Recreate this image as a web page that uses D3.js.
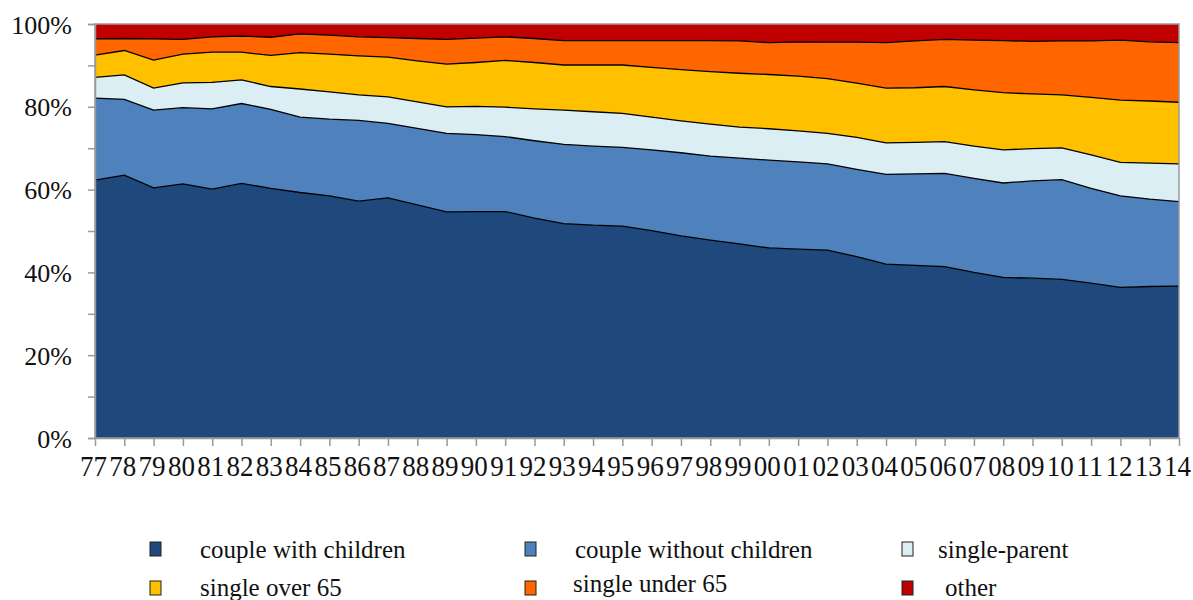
<!DOCTYPE html>
<html><head><meta charset="utf-8">
<script src="https://cdn.jsdelivr.net/npm/d3@7/dist/d3.min.js"></script>
<style>
body{margin:0;background:#fff;}
svg text{font-family:"Liberation Serif","DejaVu Serif","Times New Roman",Times,serif !important;fill:#111;}
</style>
</head><body>
<svg id="chart" width="1193" height="600"></svg>
<script>
// ---------- DATA (percent of households) ----------
const years = ["77","78","79","80","81","82","83","84","85","86","87","88","89","90","91","92","93","94","95","96","97","98","99","00","01","02","03","04","05","06","07","08","09","10","11","12","13","14"];
const seriesNames = ["couple with children","couple without children","single-parent","single over 65","single under 65","other"];
const coupleWithChildren = [62.3,63.5,60.4,61.4,60.1,61.5,60.3,59.3,58.5,57.2,58.0,56.3,54.6,54.7,54.7,53.1,51.8,51.4,51.2,50.1,48.8,47.8,46.9,45.9,45.6,45.4,43.8,42.0,41.7,41.4,40.0,38.8,38.6,38.3,37.4,36.4,36.6,36.7];
const coupleWithoutChildren = [19.8,18.3,18.8,18.4,19.4,19.3,19.1,18.2,18.5,19.5,18.0,18.5,19.0,18.6,18.1,18.7,19.1,19.1,19.0,19.5,20.1,20.3,20.7,21.2,21.1,20.8,21.1,21.7,22.1,22.5,22.7,22.8,23.5,24.1,22.9,22.1,21.1,20.4];
const singleParent = [5.0,5.9,5.3,6.0,6.4,5.7,5.5,6.8,6.6,6.2,6.4,6.4,6.4,6.8,7.1,7.7,8.3,8.3,8.2,7.9,7.7,7.7,7.5,7.6,7.5,7.4,7.7,7.6,7.6,7.7,7.8,8.0,7.8,7.7,8.1,8.1,8.7,9.1];
const singleOver65 = [5.4,5.9,6.8,6.9,7.3,6.7,7.5,8.8,9.1,9.4,9.6,9.9,10.3,10.6,11.3,11.2,10.9,11.3,11.7,12.0,12.4,12.7,13.0,13.1,13.2,13.2,13.1,13.2,13.2,13.3,13.6,13.8,13.2,12.8,13.9,15.0,15.0,14.9];
const singleUnder65 = [3.9,2.9,5.1,3.6,3.7,3.9,4.4,4.5,4.6,4.6,4.7,5.4,6.0,5.9,5.7,5.8,5.9,5.9,5.9,6.5,7.0,7.5,7.8,7.7,8.3,8.8,9.9,11.0,11.3,11.4,12.0,12.6,12.7,13.0,13.6,14.5,14.3,14.4];
const other = [3.6,3.5,3.6,3.7,3.1,2.9,3.2,2.4,2.7,3.1,3.3,3.5,3.7,3.4,3.1,3.5,4.0,4.0,4.0,4.0,4.0,4.0,4.1,4.5,4.3,4.4,4.4,4.5,4.1,3.7,3.9,4.0,4.2,4.1,4.1,3.9,4.3,4.5];
const yTicks = [0,0.1,0.2,0.3,0.4,0.5,0.6,0.7,0.8,0.9,1.0];
const yTickLabels = ["0%","","20%","","40%","","60%","","80%","","100%"];

// ---------- STYLE / LAYOUT ----------
const colors = ["#1F497D","#4F81BD","#DAEEF3","#FFC000","#FF6600","#C00000"];
const M = {left:95, right:1179, top:24, bottom:438};

const seriesValues = [coupleWithChildren,coupleWithoutChildren,singleParent,singleOver65,singleUnder65,other];
const table = years.map((yr,i)=>{
  const row = {year: yr};
  seriesNames.forEach((n,k)=>row[n]=seriesValues[k][i]);
  return row;
});

const svg = d3.select("#chart");
const x = d3.scalePoint().domain(years).range([M.left, M.right]);
const y = d3.scaleLinear().domain([0,1]).range([M.bottom, M.top]);

const stack = d3.stack().keys(seriesNames).offset(d3.stackOffsetExpand);
const layers = stack(table);

const area = d3.area().x(d=>x(d.data.year)).y0(d=>y(d[0])).y1(d=>y(d[1]));
const line = d3.line().x(d=>x(d.data.year)).y(d=>y(d[1]));

svg.append("g").selectAll("path").data(layers).join("path")
  .attr("d", area).attr("fill", (d,i)=>colors[i]);

svg.append("g").selectAll("path").data(layers.slice(0,5)).join("path")
  .attr("d", line).attr("fill","none").attr("stroke","#000").attr("stroke-width",1.3);

// plot frame
svg.append("rect").attr("x",M.left).attr("y",M.top)
  .attr("width",M.right-M.left).attr("height",M.bottom-M.top)
  .attr("fill","none").attr("stroke","#999").attr("stroke-width",1.5);

// y axis
const yAxis = svg.append("g").attr("transform",`translate(${M.left},0)`)
  .call(d3.axisLeft(y).tickValues(yTicks).tickSize(7).tickPadding(16)
    .tickFormat((d,i)=>yTickLabels[i]));
yAxis.attr("font-family",null);
yAxis.selectAll("path,line").attr("stroke","#999").attr("stroke-width",1.5);
yAxis.selectAll("text").attr("font-size",26).attr("fill","#111").attr("dy","0.35em");

// x axis
const xAxis = svg.append("g").attr("transform",`translate(0,${M.bottom})`)
  .call(d3.axisBottom(x).tickSize(8).tickSizeOuter(0));
xAxis.attr("font-family",null);
xAxis.selectAll("path,line").attr("stroke","#999").attr("stroke-width",1.5);
xAxis.selectAll("text").attr("font-size",30).attr("fill","#111")
  .attr("y",38).attr("dy",0).attr("dx",-2)
  .attr("textLength",27).attr("lengthAdjust","spacingAndGlyphs");

// legend
const legPos = [
  {sx:150, tx:200, y:549},
  {sx:525, tx:575, y:549},
  {sx:902, tx:938, y:549},
  {sx:150, tx:200, y:587},
  {sx:525, tx:573, y:583},
  {sx:902, tx:945, y:587}
];
const leg = svg.append("g").selectAll("g").data(seriesNames).join("g");
leg.append("rect")
  .attr("x",(d,i)=>legPos[i].sx).attr("y",(d,i)=>(i<3?542:581))
  .attr("width",11).attr("height",14)
  .attr("fill",(d,i)=>colors[i]).attr("stroke","#222").attr("stroke-width",1);
leg.append("text")
  .attr("x",(d,i)=>legPos[i].tx).attr("y",(d,i)=>legPos[i].y)
  .attr("dy","0.35em").attr("font-size",25).text(d=>d);
</script>
</body></html>
